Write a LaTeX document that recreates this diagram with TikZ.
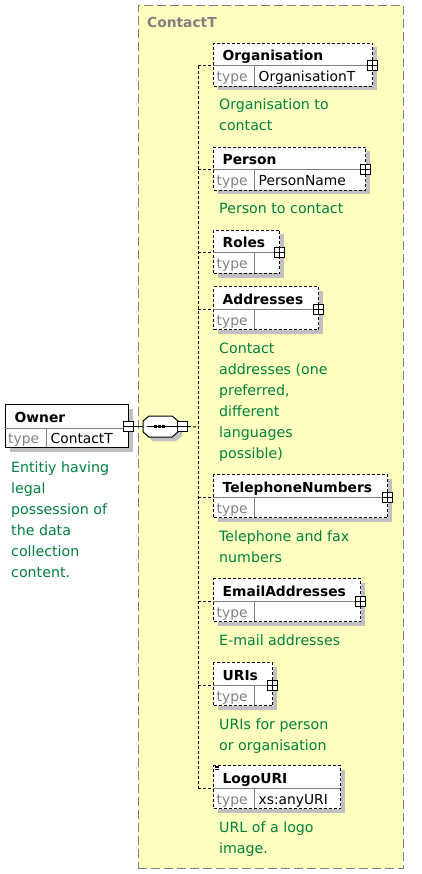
\documentclass[tikz,border=0pt]{standalone}
\usepackage{fontspec}
\setmainfont{DejaVu Sans}
\usetikzlibrary{shadows}
\definecolor{xyellow}{RGB}{255,255,192}
\definecolor{xgreen}{RGB}{0,128,64}
\definecolor{xgray}{RGB}{128,128,128}
\definecolor{xshadow}{RGB}{192,192,192}
\tikzset{
  myshadow/.style={drop shadow={shadow xshift=4pt, shadow yshift=-4pt, fill=xshadow, opacity=1}},
  elbox/.style={draw=black, line width=1pt, dash pattern=on 3pt off 2pt, fill=white, inner sep=0pt, anchor=north west, minimum height=43pt, myshadow},
  ownerbox/.style={draw=black, line width=1pt, fill=white, inner sep=0pt, anchor=north west, myshadow},
  divline/.style={draw=xgray, line width=1pt},
  namefont/.style={font=\fontsize{13.8}{16}\selectfont\bfseries, inner sep=0pt, anchor=base west},
  typelbl/.style={font=\fontsize{13.8}{16}\selectfont, text=xgray, inner sep=0pt, anchor=base west},
  typeval/.style={font=\fontsize{13.8}{16}\selectfont, text=black, inner sep=0pt, anchor=base west},
  desc/.style={font=\fontsize{14.2}{21}\selectfont, text=xgreen, inner sep=0pt, anchor=base west},
  conn/.style={draw=black, line width=1pt, dash pattern=on 3pt off 2pt},
  solidconn/.style={draw=black, line width=1pt},
  plusicon/.style={draw=black, fill=white, line width=1pt, minimum size=10pt, inner sep=0pt,
    path picture={\draw[line width=1pt] (path picture bounding box.north) -- (path picture bounding box.south)
      (path picture bounding box.west) -- (path picture bounding box.east);}},
  minusicon/.style={draw=black, fill=white, line width=1pt, minimum size=10pt, inner sep=0pt,
    path picture={\draw[line width=1pt] (path picture bounding box.west) -- (path picture bounding box.east);}},
}
% #1 id, #2 top y, #3 right x, #4 name, #5 type value
\newcommand\xelem[5]{%
  \node[elbox, minimum width={#3-213}] (#1) at (213,#2) {};
  \draw[divline] (213,{#2+23}) -- (#3,{#2+23});
  \draw[divline] (254,{#2+23}) -- (254,{#2+43});
  \node[namefont] (#1n) at (222.5,{#2+18}) {#4};
  \node[typelbl] (#1t) at (216.5,{#2+39}) {type};
  \node[typeval] (#1v) at (258.5,{#2+39}) {#5};
  \coordinate (#1d) at (213,{#2+23});
  \draw[conn] (#1d -| bus) -- (#1d);
}
\newcommand\xplus[3]{\node[plusicon] (#1p) at (#3,{#2+23}) {};}
\begin{document}
\begin{tikzpicture}[x=1pt,y=-1pt]
\useasboundingbox (0,0) rectangle (421,874);
\fill[white] (0,0) rectangle (421,874);
% container
\node[draw=xgray, line width=1pt, dash pattern=on 9pt off 4pt, fill=xyellow, inner sep=0pt,
  anchor=north west, minimum width=265pt, minimum height=863pt] (contact) at (137.5,5) {};
\node[font=\fontsize{13.8}{16}\selectfont\bfseries, text=xgray, inner sep=0pt, anchor=base west] (contactlbl) at (147,28) {ContactT};
\coordinate (bus) at (198,427);
% owner
\node[ownerbox, minimum width=123pt, minimum height=43pt] (owner) at (5,404) {};
\draw[divline] (5,428) -- (128,428);
\draw[divline] (46,428) -- (46,447);
\node[namefont] (ownern) at (14.5,422) {Owner};
\node[typelbl] (ownert) at (8,443) {type};
\node[typeval] (ownerv) at (50.5,443) {ContactT};
\foreach \t [count=\i] in {Entitiy having, legal, possession of, the data, collection, content.}
  \node[desc] (ownerdesc\i) at (11,{472+21*(\i-1)}) {\t};
% compositor
\fill[xshadow] (147,425) -- (153,420) -- (176,420) -- (182,425) -- (182,436) -- (176,441) -- (153,441) -- (147,436) -- cycle;
\draw[line width=1pt, fill=white] (143,421) -- (149,416) -- (172,416) -- (178,421) -- (178,432) -- (172,437) -- (149,437) -- (143,432) -- cycle;
\node[inner sep=0pt, minimum width=35pt, minimum height=21pt] (seq) at (160.5,426.5) {};
\draw[line width=1pt] (146.5,426.5) -- (178,426.5);
\foreach \dx in {155,159,163} \fill (\dx-1.5,425) rectangle (\dx+1.5,428);
\node[minusicon] (ownm) at (128,426.5) {};
\node[minusicon] (seqm) at (182.5,426.5) {};
\draw[solidconn] (ownm.east) -- (seq.west);
\draw[conn] (seqm.east) -- (bus);
% elements
\xelem{org}{43}{372}{Organisation}{OrganisationT}
\xelem{per}{147}{365}{Person}{PersonName}
\xelem{rol}{230}{279}{Roles}{}
\xelem{adr}{286}{318}{Addresses}{}
\xelem{tel}{474}{387}{TelephoneNumbers}{}
\xelem{eml}{578}{360}{EmailAddresses}{}
\xelem{uri}{662}{272}{URIs}{}
\xelem{logo}{765}{340}{LogoURI}{xs:anyURI}
\draw[conn] (orgd -| bus) -- (logod -| bus);
\xplus{org}{43}{372}
\xplus{per}{147}{365}
\xplus{rol}{230}{279}
\xplus{adr}{286}{318}
\xplus{tel}{474}{387}
\xplus{eml}{578}{360}
\xplus{uri}{662}{272}
\draw[line width=0.6pt] (214.5,766) -- (219,766) (214.5,767.6) -- (219,767.6) (214.5,769.2) -- (219,769.2);
% descriptions
\foreach \t [count=\i] in {Organisation to, contact}
  \node[desc] (orgdesc\i) at (219,{110+21*(\i-1)}) {\t};
\node[desc] (perdesc) at (219,214) {Person to contact};
\foreach \t [count=\i] in {Contact, addresses (one, {preferred,}, different, languages, possible)}
  \node[desc] (adrdesc\i) at (219,{353+21*(\i-1)}) {\t};
\foreach \t [count=\i] in {Telephone and fax, numbers}
  \node[desc] (teldesc\i) at (219,{541+21*(\i-1)}) {\t};
\node[desc] (emldesc) at (219,645) {E-mail addresses};
\foreach \t [count=\i] in {URIs for person, or organisation}
  \node[desc] (uridesc\i) at (219,{729+21*(\i-1)}) {\t};
\foreach \t [count=\i] in {URL of a logo, image.}
  \node[desc] (logodesc\i) at (219,{832+21*(\i-1)}) {\t};
\end{tikzpicture}
\end{document}
